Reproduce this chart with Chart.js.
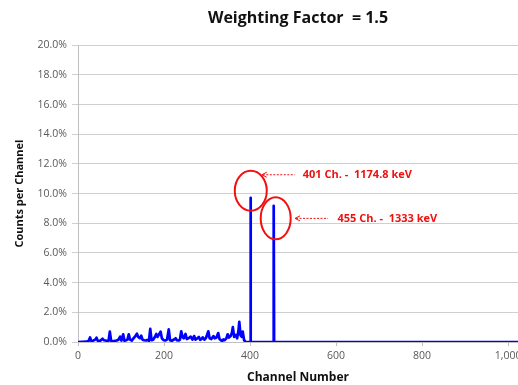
<!DOCTYPE html>
<html>
<head>
<meta charset="utf-8">
<script src="https://cdn.jsdelivr.net/npm/chart.js@4/dist/chart.umd.min.js"></script>
<style>
  html, body { margin: 0; padding: 0; background: #fff; }
  #wrap { width: 518px; height: 385px; position: relative; }
</style>
</head>
<body>
<div id="wrap"><canvas id="espectro"></canvas></div>
<script>
// ===== Datos =====
const canales = [0, 20, 25, 28, 31, 36, 40, 43, 46, 50, 54, 57, 60, 64, 68, 71, 74, 77, 82, 86,
  90, 94, 98, 101, 105, 108, 112, 115, 118, 121, 125, 129, 133, 137, 140, 144, 147, 150, 154, 158,
  161, 165, 168, 171, 175, 178, 182, 185, 188, 192, 195, 199, 203, 207, 211, 214, 218, 222, 227, 230,
  234, 237, 240, 243, 246, 250, 253, 257, 262, 266, 270, 273, 277, 281, 284, 287, 290, 294, 298, 303,
  306, 310, 315, 318, 322, 326, 329, 333, 336, 338, 341, 345, 348, 351, 355, 358, 360, 363, 367, 370,
  373, 375, 378, 381, 383, 386, 389, 399, 400, 401, 402, 403, 453, 454, 455, 456, 457, 1023];
const cuentas = [0, 0.02, 0.08, 0.31, 0.06, 0.1, 0.16, 0.29, 0.08, 0.05, 0.14, 0.22, 0.12, 0.1, 0.06, 0.08, 0.7, 0.08, 0.05, 0.08,
  0.1, 0.15, 0.36, 0.1, 0.52, 0.08, 0.12, 0.16, 0.52, 0.16, 0.1, 0.24, 0.38, 0.56, 0.34, 0.25, 0.43, 0.16, 0.12, 0.1,
  0.14, 0.08, 0.88, 0.12, 0.16, 0.3, 0.54, 0.34, 0.5, 0.7, 0.25, 0.12, 0.1, 0.16, 0.85, 0.12, 0.08, 0.15, 0.25, 0.12,
  0.1, 0.16, 0.72, 0.34, 0.25, 0.54, 0.2, 0.25, 0.36, 0.16, 0.4, 0.16, 0.24, 0.34, 0.15, 0.2, 0.31, 0.16, 0.3, 0.72,
  0.25, 0.2, 0.4, 0.25, 0.3, 0.6, 0.2, 0.1, 0.08, 0.18, 0.12, 0.25, 0.52, 0.3, 0.4, 0.65, 1.0, 0.35, 0.47, 0.25,
  0.75, 1.35, 0.45, 0.35, 0.7, 0.15, 0, 0, 0, 9.72, 0, 0, 0, 0, 9.18, 0, 0, 0];

const picosCanal = [401, 455];
const picosValor = [9.72, 9.18];
const picosTexto = ["401 Ch. -  1174.8 keV", "455 Ch. -  1333 keV"];

const yTicksMax = 20, yPaso = 2;
const xTicksMax = 1023;
const xTicks = [0, 200, 400, 600, 800, 1000];

// ===== Anotaciones (elipses rojas + flechas) =====
const anotaciones = {
  id: 'anotaciones',
  afterDatasetsDraw(chart) {
    const { ctx, scales: { x, y } } = chart;
    // desplazamientos en px respecto a la cima de cada pico
    const cfg = [
      { dx: 0.3, dy: -7, rx: 16, ry: 20, ax: 11, ay: -16, len: 33, tx: 41 },
      { dx: 2, dy: 12.6, rx: 15, ry: 21, ax: 19.3, ay: 0, len: 33, tx: 42.5 }
    ];
    ctx.save();
    picosCanal.forEach((c, i) => {
      const px = x.getPixelForValue(c), py = y.getPixelForValue(picosValor[i]);
      const k = cfg[i];
      const cx = px + k.dx, cy = py + k.dy;
      ctx.strokeStyle = '#f01010';
      ctx.lineWidth = 2;
      ctx.beginPath();
      ctx.ellipse(cx, cy, k.rx, k.ry, 0, 0, Math.PI * 2);
      ctx.stroke();
      // flecha discontinua
      const ax = cx + k.ax, ay = cy + k.ay;
      ctx.lineWidth = 1;
      ctx.setLineDash([2, 1.5]);
      ctx.beginPath();
      ctx.moveTo(ax + 1, ay);
      ctx.lineTo(ax + k.len, ay);
      ctx.stroke();
      ctx.setLineDash([]);
      ctx.beginPath();
      ctx.moveTo(ax + 5, ay - 2.5);
      ctx.lineTo(ax, ay);
      ctx.lineTo(ax + 5, ay + 2.5);
      ctx.stroke();
      ctx.fillStyle = '#f01010';
      ctx.font = 'bold 11px "Open Sans", sans-serif';
      ctx.textBaseline = 'middle';
      ctx.textAlign = 'left';
      ctx.fillText(picosTexto[i], ax + k.tx, ay + 0.5);
    });
    ctx.restore();
  }
};

const puntos = canales.map((c, i) => ({ x: c, y: cuentas[i] }));

new Chart(document.getElementById('espectro'), {
  type: 'line',
  data: { datasets: [{ data: puntos, borderColor: '#0000ff', borderWidth: 2.7, borderJoinStyle: 'round',
    pointRadius: 0, tension: 0, fill: false }] },
  options: {
    responsive: true,
    maintainAspectRatio: false,
    animation: false,
    layout: { padding: { left: 0, right: 0, top: 0, bottom: 0 } },
    plugins: {
      legend: { display: false },
      tooltip: { enabled: false },
      title: {
        display: true,
        fullSize: false,
        text: 'Weighting Factor  = 1.5',
        color: '#111',
        font: { family: '"Open Sans", sans-serif', size: 16, weight: 'bold' },
        padding: { top: 9, bottom: 17 }
      }
    },
    scales: {
      x: {
        type: 'linear',
        min: 0, max: xTicksMax,
        afterBuildTicks(s) { s.ticks = xTicks.map(v => ({ value: v })); },
        ticks: { autoSkip: false, color: '#595959', padding: 4, maxRotation: 0,
          font: { family: '"Open Sans", sans-serif', size: 10.5 } },
        grid: { drawOnChartArea: false, drawTicks: true, tickLength: 4, color: '#bfbfbf' },
        border: { color: '#bfbfbf' },
        title: { display: true, text: 'Channel Number', color: '#111', padding: { top: 5, bottom: 0 },
          font: { family: '"Open Sans", sans-serif', size: 12, weight: 'bold' } },
        afterFit(s) { s.height = 43; s.paddingLeft = 0; s.paddingRight = 0; }
      },
      y: {
        min: 0, max: yTicksMax,
        ticks: { stepSize: yPaso, color: '#595959', padding: 5, callback: v => v.toFixed(1) + '%',
          font: { family: '"Open Sans", sans-serif', size: 10.5 } },
        grid: { color: '#cfcfcf', tickLength: 6 },
        border: { color: '#bfbfbf' },
        title: { display: true, text: 'Counts per Channel', color: '#111', padding: { top: 13, bottom: 0 },
          font: { family: '"Open Sans", sans-serif', size: 11, weight: 'bold' } },
        afterFit(s) { s.width = 78; s.paddingTop = 0; s.paddingBottom = 0; }
      }
    }
  },
  plugins: [anotaciones]
});
</script>
</body>
</html>
